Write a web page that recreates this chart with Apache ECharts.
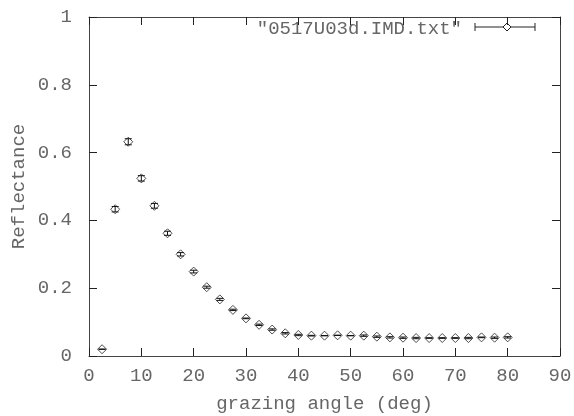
<!DOCTYPE html>
<html><head><meta charset="utf-8">
<script src="https://cdn.jsdelivr.net/npm/echarts@6/dist/echarts.min.js"></script>
<style>html,body{margin:0;padding:0;background:#fff}#c{width:574px;height:416px}</style>
</head><body><div id="c"></div>
<script>
const angles = [2.5,5,7.5,10,12.5,15,17.5,20,22.5,25,27.5,30,32.5,35,37.5,40,42.5,45,47.5,50,52.5,55,57.5,60,62.5,65,67.5,70,72.5,75,77.5,80];
const reflectance = [0.020,0.433,0.632,0.524,0.443,0.362,0.300,0.249,0.203,0.167,0.136,0.111,0.092,0.078,0.067,0.062,0.060,0.060,0.061,0.060,0.060,0.057,0.055,0.054,0.053,0.053,0.053,0.053,0.053,0.055,0.054,0.055];
const errors = [0.0005,0.008,0.009,0.008,0.007,0.006,0.005,0.004,0.003,0.003,0.002,0.001,0.002,0.002,0.002,0.002,0.001,0.0005,0.0005,0.0005,0.002,0.002,0.002,0.002,0.002,0.001,0.001,0.001,0.002,0.001,0.002,0.002];
const xTicks = [0,10,20,30,40,50,60,70,80,90];
const yTicks = [0,0.2,0.4,0.6,0.8,1];
const seriesName = '"0517U03d.IMD.txt"';

const FONT = 'Liberation Mono';
const TXT = '#666';
const AX = '#444';
const pts = angles.map((a,i)=>[a, reflectance[i], errors[i]]);

const chart = echarts.init(document.getElementById('c'), null, {renderer:'canvas'});
const baseX = {
  type:'value', min:xTicks[0], max:xTicks[xTicks.length-1], interval:10,
  splitLine:{show:false},
  axisLine:{show:true, onZero:false, lineStyle:{color:AX, width:1}},
  axisTick:{show:true, inside:true, length:8, lineStyle:{color:'#222'}}
};
const baseY = {
  type:'value', min:yTicks[0], max:yTicks[yTicks.length-1], interval:0.2,
  splitLine:{show:false},
  axisLine:{show:true, onZero:false, lineStyle:{color:AX, width:1}},
  axisTick:{show:true, inside:true, length:8, lineStyle:{color:'#222'}}
};
chart.setOption({
  animation:false,
  backgroundColor:'#fff',
  grid:{left:89, right:14, top:17, bottom:60, containLabel:false, outerBoundsMode:'none'},
  xAxis:[
    Object.assign({}, baseX, {position:'bottom',
      axisLabel:{color:TXT, fontFamily:FONT, fontSize:19, margin:10},
      name:'grazing angle (deg)', nameLocation:'middle', nameGap:38, nameMoveOverlap:false,
      nameTextStyle:{color:TXT, fontFamily:FONT, fontSize:19}}),
    Object.assign({}, baseX, {position:'top', axisLabel:{show:false}})
  ],
  yAxis:[
    Object.assign({}, baseY, {position:'left',
      axisLabel:{color:TXT, fontFamily:FONT, fontSize:19, margin:17,
        formatter:v=>String(Math.round(v*10)/10)},
      name:'Reflectance', nameLocation:'middle', nameGap:70, nameMoveOverlap:false,
      nameTextStyle:{color:TXT, fontFamily:FONT, fontSize:19, verticalAlign:'middle'}}),
    Object.assign({}, baseY, {position:'right', axisLabel:{show:false}})
  ],
  graphic:[
    {type:'text', x:462, y:29, style:{text:seriesName, fill:TXT, font:'19px "Liberation Mono"', textAlign:'right', textVerticalAlign:'middle'}},
    {type:'line', shape:{x1:475,y1:27,x2:535,y2:27}, style:{stroke:'#222', lineWidth:1}},
    {type:'line', shape:{x1:475,y1:23,x2:475,y2:31}, style:{stroke:'#222', lineWidth:1}},
    {type:'line', shape:{x1:535,y1:23,x2:535,y2:31}, style:{stroke:'#222', lineWidth:1}},
    {type:'polygon', shape:{points:[[507,23],[511,27],[507,31],[503,27]]}, style:{fill:'#fff', stroke:'#222', lineWidth:1}}
  ],
  series:[
    {
      type:'custom', name:seriesName, xAxisIndex:0, yAxisIndex:0,
      data:pts, z:2,
      renderItem:function(params, api){
        const x = api.value(0), y = api.value(1), e = api.value(2);
        const pHi = api.coord([x, y+e]);
        const pLo = api.coord([x, y-e]);
        const hw = 3.5;
        return {type:'group', children:[
          {type:'line', shape:{x1:pLo[0],y1:pLo[1],x2:pHi[0],y2:pHi[1]}, style:{stroke:'#111', lineWidth:1}},
          {type:'line', shape:{x1:pHi[0]-hw,y1:pHi[1],x2:pHi[0]+hw,y2:pHi[1]}, style:{stroke:'#111', lineWidth:1}},
          {type:'line', shape:{x1:pLo[0]-hw,y1:pLo[1],x2:pLo[0]+hw,y2:pLo[1]}, style:{stroke:'#111', lineWidth:1}}
        ]};
      }
    },
    {
      type:'scatter', xAxisIndex:0, yAxisIndex:0,
      data:pts.map(p=>[p[0],p[1]]),
      symbol:'diamond', symbolSize:[9,9], z:3,
      itemStyle:{color:'rgba(255,255,255,0)', borderColor:'#222', borderWidth:1}
    }
  ]
});
</script></body></html>
